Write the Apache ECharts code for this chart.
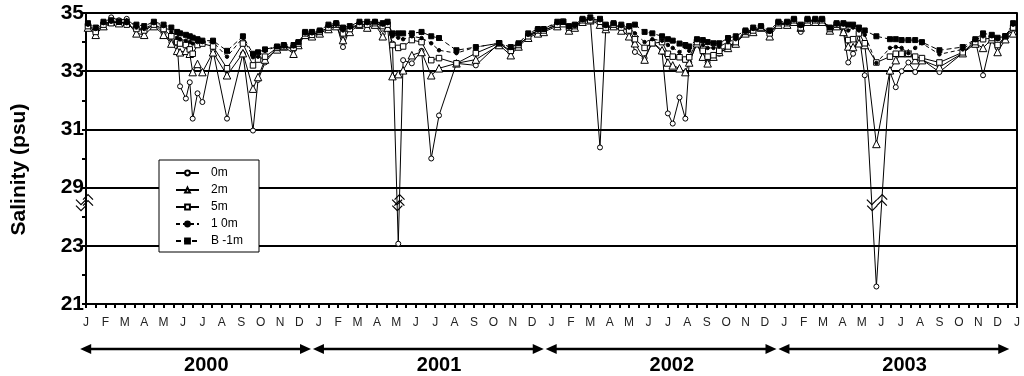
<!DOCTYPE html>
<html>
<head>
<meta charset="utf-8">
<script src="https://cdn.jsdelivr.net/npm/echarts@6/dist/echarts.min.js"></script>
<style>
  html, body { margin: 0; padding: 0; background: #fff; }
  #chart { width: 1024px; height: 376px; }
</style>
</head>
<body>
<div id="chart"></div>
<script>
// Month initials along the time axis and the year bands under it
const monthLetters = ['J', 'F', 'M', 'A', 'M', 'J', 'J', 'A', 'S', 'O', 'N', 'D'];
const years = ['2000', '2001', '2002', '2003'];
const depthNames = ['0m', '2m', '5m', '1 0m', 'B -1m'];

// Sampling dates, in months since 1 January 2000
const sampleMonths = [
  0.1, 0.5, 0.9, 1.3, 1.7, 2.1, 2.6, 3.0, 3.5, 4.0, 4.4, 4.7, 4.85, 5.15, 5.35, 5.5, 5.75, 6.0, 6.55, 7.27,
  8.09, 8.61, 8.87, 9.23, 9.85, 10.2, 10.7, 10.95, 11.3, 11.65,
  12.05, 12.5, 12.9, 13.25, 13.6, 14.1, 14.5, 14.9, 15.3, 15.55, 15.8, 16.1, 16.35, 16.8, 17.3, 17.8, 18.2,
  19.1, 20.1, 21.3, 21.9, 22.3, 22.8, 23.3, 23.6,
  24.3, 24.6, 24.9, 25.2, 25.6, 26.0, 26.5, 26.8, 27.2, 27.6, 28.0, 28.3, 28.8, 29.2, 29.7, 30.0, 30.25,
  30.6, 30.9, 31.1, 31.5, 31.8, 32.05, 32.35, 32.65, 33.1, 33.5, 34.0, 34.4, 34.8, 35.25, 35.7,
  36.15, 36.5, 36.85, 37.2, 37.6, 37.95, 38.35, 38.7, 39.05, 39.3, 39.55, 39.85, 40.15, 40.75, 41.45,
  41.75, 42.05, 42.4, 42.75, 43.1, 44.0, 45.2, 45.85, 46.25, 46.7, 47.0, 47.4, 47.8
];

// Salinity (psu) at each depth
const sal0m = [
  34.6, 34.4, 34.65, 34.85, 34.75, 34.8, 34.5, 34.35, 34.65, 34.3, 34.0, 33.95, 32.48, 32.06, 32.62, 31.37, 32.24, 31.94, 33.7, 31.37,
  33.6, 30.96, 32.7, 33.3, 33.8, 33.85, 33.75, 33.95, 34.3, 34.25,
  34.35, 34.5, 34.65, 33.83, 34.45, 34.65, 34.55, 34.7, 34.3, 34.55, 33.95, 23.07, 33.38, 33.27, 33.7, 30.0, 31.48,
  33.27, 33.2, 33.96, 33.65, 33.9, 34.2, 34.35, 34.4,
  34.6, 34.7, 34.45, 34.55, 34.75, 34.8, 30.38, 34.5, 34.6, 34.5, 34.4, 33.66, 33.45, 34.0, 33.66, 31.55, 31.2,
  32.1, 31.37, 33.3, 33.96, 33.45, 33.3, 33.48, 33.6, 33.83, 34.0, 34.35, 34.35, 34.5, 34.3, 34.65,
  34.6, 34.75, 34.35, 34.75, 34.75, 34.7, 34.45, 34.6, 34.35, 33.3, 33.6, 34.3, 32.86, 21.6, 32.97,
  32.45, 33.0, 33.3, 32.97, 33.4, 32.97, 33.62, 34.07, 32.86, 34.14, 33.8, 34.2, 34.4
];
const sal2m = [
  34.5, 34.25, 34.55, 34.7, 34.65, 34.7, 34.3, 34.25, 34.55, 34.25, 33.95, 33.7, 33.65, 33.7, 33.6, 32.97, 33.25, 32.97, 33.65, 32.86,
  33.62, 32.4, 32.8, 33.4, 33.75, 33.85, 33.6, 33.9, 34.25, 34.2,
  34.3, 34.45, 34.55, 34.07, 34.35, 34.6, 34.5, 34.6, 34.2, 34.5, 32.83, 32.9, 33.03, 33.55, 33.66, 32.86, 33.1,
  33.27, 33.4, 33.9, 33.55, 33.85, 34.15, 34.3, 34.35,
  34.55, 34.65, 34.4, 34.5, 34.7, 34.75, 34.6, 34.45, 34.55, 34.4, 34.2, 33.96, 33.4, 34.0, 33.72, 33.3, 33.2,
  33.1, 32.97, 33.3, 33.96, 33.5, 33.27, 33.5, 33.66, 33.8, 33.95, 34.3, 34.35, 34.5, 34.2, 34.6,
  34.6, 34.7, 34.5, 34.7, 34.7, 34.7, 34.4, 34.55, 34.35, 33.85, 33.83, 33.96, 33.9, 30.5, 33.03,
  33.38, 33.62, 33.62, 33.38, 33.38, 33.14, 33.62, 33.95, 33.8, 34.1, 33.66, 34.1, 34.3
];
const sal5m = [
  34.55, 34.35, 34.6, 34.65, 34.7, 34.6, 34.45, 34.4, 34.6, 34.45, 34.2, 34.0, 33.95, 33.9, 33.75, 33.6, 33.9, 33.95, 33.85, 33.1,
  33.95, 33.2, 33.4, 33.5, 33.8, 33.85, 33.8, 33.95, 34.3, 34.25,
  34.35, 34.5, 34.6, 34.3, 34.45, 34.6, 34.6, 34.65, 34.55, 34.6, 33.9, 33.8, 33.85, 34.07, 34.0, 33.38, 33.45,
  33.27, 33.62, 33.96, 33.7, 33.9, 34.2, 34.4, 34.4,
  34.6, 34.7, 34.5, 34.55, 34.75, 34.75, 34.7, 34.5, 34.6, 34.5, 34.4, 34.1, 33.8, 33.96, 34.0, 33.6, 33.5,
  33.48, 33.4, 33.48, 34.0, 33.7, 33.5, 33.55, 33.7, 33.85, 34.0, 34.35, 34.4, 34.5, 34.3, 34.65,
  34.65, 34.75, 34.5, 34.75, 34.75, 34.75, 34.45, 34.6, 34.55, 34.07, 34.1, 34.3, 33.96, 33.3, 33.5,
  33.6, 33.6, 33.6, 33.5, 33.45, 33.3, 33.65, 34.0, 34.1, 34.14, 33.9, 34.2, 34.5
];
const sal10m = [
  34.6, 34.45, 34.65, 34.7, 34.7, 34.65, 34.5, 34.45, 34.65, 34.55, 34.35, 34.15, 34.1, 34.05, 34.0, 33.95, 34.0, 34.0, 34.0, 33.5,
  34.15, 33.48, 33.5, 33.7, 33.85, 33.85, 33.85, 34.0, 34.3, 34.3,
  34.4, 34.55, 34.6, 34.4, 34.5, 34.65, 34.65, 34.7, 34.6, 34.65, 34.2, 34.15, 34.1, 34.2, 34.14, 33.96, 33.72,
  33.62, 33.83, 33.96, 33.8, 33.95, 34.25, 34.4, 34.45,
  34.65, 34.7, 34.5, 34.55, 34.75, 34.8, 34.75, 34.55, 34.65, 34.55, 34.5, 34.3, 34.0, 34.1, 34.05, 33.9, 33.8,
  33.66, 33.83, 33.7, 34.07, 33.9, 33.8, 33.8, 33.85, 34.0, 34.1, 34.35, 34.45, 34.55, 34.35, 34.65,
  34.65, 34.75, 34.55, 34.75, 34.75, 34.75, 34.5, 34.6, 34.6, 34.4, 34.5, 34.4, 34.25, 33.28, 33.8,
  33.83, 33.8, 33.62, 33.8, 33.96, 33.58, 33.75, 34.07, 34.2, 34.2, 34.1, 34.2, 34.6
];
const salBottom = [
  34.65, 34.5, 34.7, 34.75, 34.7, 34.7, 34.6, 34.55, 34.7, 34.6, 34.5, 34.35, 34.3, 34.25, 34.2, 34.15, 34.1, 34.05, 34.05, 33.7,
  34.2, 33.6, 33.65, 33.75, 33.85, 33.9, 33.9, 34.0, 34.35, 34.35,
  34.4, 34.6, 34.65, 34.5, 34.55, 34.7, 34.7, 34.7, 34.65, 34.7, 34.3, 34.3, 34.3, 34.3, 34.35, 34.2, 34.14,
  33.72, 33.83, 33.96, 33.83, 33.96, 34.3, 34.45, 34.45,
  34.7, 34.7, 34.55, 34.6, 34.8, 34.85, 34.8, 34.6, 34.65, 34.6, 34.55, 34.6, 34.35, 34.3, 34.2, 34.1, 34.05,
  33.95, 33.9, 33.85, 34.1, 34.07, 34.0, 33.96, 33.96, 34.14, 34.2, 34.4, 34.5, 34.55, 34.4, 34.7,
  34.7, 34.8, 34.6, 34.8, 34.8, 34.8, 34.5, 34.65, 34.65, 34.6, 34.6, 34.5, 34.4, 34.2, 34.1,
  34.1, 34.07, 34.07, 34.07, 34.0, 33.72, 33.83, 34.1, 34.3, 34.25, 34.15, 34.2, 34.65
];

// The salinity scale is broken between 23 and 29: values below the break
// are lifted by 4 psu so that 23 sits one grid step under 29.
const BREAK_SHIFT = 4;
const toAxis = s => (s < 26 ? s + BREAK_SHIFT : s);
const axisToSalinity = v => (v < 28 ? v - BREAK_SHIFT : v);

const FONT = 'Liberation Sans, Arial, sans-serif';

const seriesDefs = [
  { name: depthNames[0], values: sal0m, symbol: 'circle', size: 5, fill: '#fff', dash: 'solid' },
  { name: depthNames[1], values: sal2m, symbol: 'triangle', size: 7.5, fill: '#fff', dash: 'solid' },
  { name: depthNames[2], values: sal5m, symbol: 'rect', size: 5.5, fill: '#fff', dash: 'solid' },
  { name: depthNames[3], values: sal10m, symbol: 'circle', size: 3.5, fill: '#000', dash: [4, 3] },
  { name: depthNames[4], values: salBottom, symbol: 'rect', size: 5, fill: '#000', dash: [5, 3] }
];

const series = seriesDefs.map(d => ({
  name: d.name,
  type: 'line',
  data: sampleMonths.map((m, i) => [m, toAxis(d.values[i])]),
  symbol: d.symbol,
  symbolSize: d.size,
  showAllSymbol: true,
  lineStyle: { color: '#000', width: 1, type: d.dash },
  itemStyle: { color: d.fill, borderColor: '#000', borderWidth: 1 },
  emphasis: { disabled: true },
  silent: true
}));

const chart = echarts.init(document.getElementById('chart'), null, { renderer: 'canvas' });

const option = {
  animation: false,
  backgroundColor: '#fff',
  grid: { left: 86, right: 7, top: 13, bottom: 72, containLabel: false },
  legend: {
    orient: 'vertical',
    left: 159,
    top: 160,
    backgroundColor: '#fff',
    borderColor: '#000',
    borderWidth: 1,
    borderRadius: 0,
    padding: [7, 16, 5, 16],
    itemWidth: 23,
    itemHeight: 6,
    itemGap: 5,
    textStyle: { fontFamily: FONT, fontSize: 12, color: '#000', padding: [0, 0, 0, 7] },
    data: depthNames
  },
  xAxis: {
    type: 'value',
    min: 0,
    max: 48,
    interval: 0.5,
    axisLine: { lineStyle: { color: '#000', width: 2 } },
    axisTick: { length: 4, lineStyle: { color: '#000', width: 2 } },
    axisLabel: {
      formatter: v => (Number.isInteger(v) ? monthLetters[v % 12] : ''),
      margin: 13,
      fontFamily: FONT,
      fontSize: 12,
      color: '#222'
    },
    splitLine: { show: false }
  },
  yAxis: [
    {
      type: 'value',
      min: 25,
      max: 35,
      interval: 2,
      axisLine: { show: true, lineStyle: { color: '#000', width: 2 } },
      axisTick: { show: true, length: 4, lineStyle: { color: '#000', width: 2 } },
      minorTick: { show: true, splitNumber: 2, length: 4, lineStyle: { color: '#000', width: 2 } },
      axisLabel: {
        formatter: v => String(axisToSalinity(v)),
        margin: 2,
        fontFamily: FONT,
        fontWeight: 'bold',
        fontSize: 21,
        color: '#000'
      },
      splitLine: { show: true, lineStyle: { color: '#000', width: 2 } }
    },
    {
      type: 'value',
      position: 'right',
      min: 25,
      max: 35,
      interval: 2,
      axisLine: { show: true, lineStyle: { color: '#000', width: 2 } },
      axisTick: { show: false },
      axisLabel: { show: false },
      splitLine: { show: false }
    }
  ],
  series: series
};

chart.setOption(option);

// Decorations placed through the axes: axis title, scale-break marks, year arrows
const px = v => chart.convertToPixel({ xAxisIndex: 0 }, v);
const py = v => chart.convertToPixel({ yAxisIndex: 0 }, v);
const graphics = [];

const plotTop = py(35), plotBottom = py(25);
graphics.push({
  type: 'text',
  x: 19,
  y: (plotTop + plotBottom) / 2 + 11,
  rotation: Math.PI / 2,
  style: {
    text: 'Salinity (psu)',
    fontFamily: FONT,
    fontWeight: 'bold',
    fontSize: 21,
    fill: '#000',
    align: 'center',
    verticalAlign: 'middle'
  }
});

// chevron: dir -1 points up, +1 points down
function chevrons(cx, vy, dir) {
  return {
    type: 'polyline',
    shape: { points: [[cx - 5, vy - dir * 5], [cx, vy], [cx + 5, vy - dir * 5]] },
    style: { stroke: '#000', lineWidth: 1.2, fill: null }
  };
}

const y29 = py(29);
const upY = [y29 + 7, y29 + 13];
const downY = [y29 + 17, y29 + 23];

// break on the salinity axis
const ax = px(0);
graphics.push({ type: 'rect', shape: { x: ax - 2, y: y29 + 6, width: 4, height: 18 }, style: { fill: '#fff' } });
upY.forEach(y => graphics.push(chevrons(ax + 2, y, -1)));
downY.forEach(y => graphics.push(chevrons(ax - 5, y, 1)));

// breaks on the surface line wherever it dives below the broken span
function xOnSegment(a, b, y) {
  const t = (y - a[1]) / (b[1] - a[1]);
  return a[0] + t * (b[0] - a[0]);
}
sal0m.forEach((s, i) => {
  if (s >= 26 || i === 0 || i === sal0m.length - 1) return;
  const p = j => [px(sampleMonths[j]), py(toAxis(sal0m[j]))];
  const prev = p(i - 1), low = p(i), next = p(i + 1);
  downY.forEach(y => graphics.push(chevrons(xOnSegment(prev, low, y), y, 1)));
  upY.forEach(y => graphics.push(chevrons(xOnSegment(low, next, y), y, -1)));
});

// year arrows under the month letters
const arrowY = 349;
years.forEach((label, k) => {
  const x1 = px(12 * k - 0.3);
  const x2 = px(12 * k + 11.6);
  graphics.push({
    type: 'line',
    shape: { x1: x1 + 8, y1: arrowY, x2: x2 - 8, y2: arrowY },
    style: { stroke: '#000', lineWidth: 2.5 }
  });
  graphics.push({
    type: 'polygon',
    shape: { points: [[x1, arrowY], [x1 + 11, arrowY - 5], [x1 + 11, arrowY + 5]] },
    style: { fill: '#000' }
  });
  graphics.push({
    type: 'polygon',
    shape: { points: [[x2, arrowY], [x2 - 11, arrowY - 5], [x2 - 11, arrowY + 5]] },
    style: { fill: '#000' }
  });
  graphics.push({
    type: 'text',
    x: px(12 * k + 6.2),
    y: 365,
    style: {
      text: label,
      fontFamily: FONT,
      fontWeight: 'bold',
      fontSize: 20,
      fill: '#000',
      align: 'center',
      verticalAlign: 'middle'
    }
  });
});

chart.setOption({ graphic: graphics });
</script>
</body>
</html>
